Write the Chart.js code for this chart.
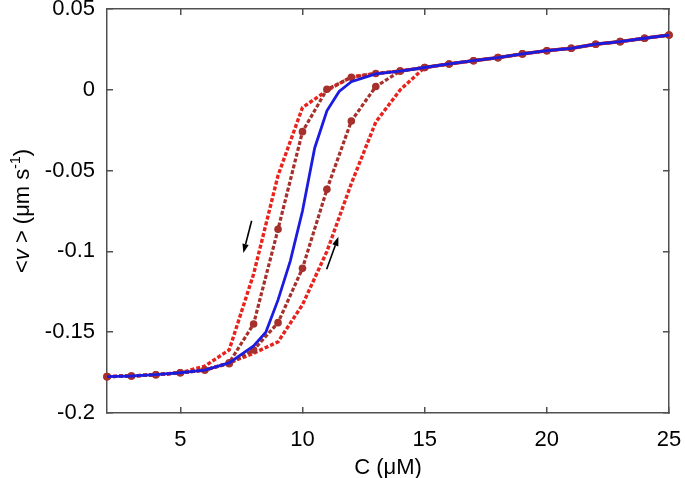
<!DOCTYPE html>
<html>
<head>
<meta charset="utf-8">
<script src="https://cdn.jsdelivr.net/npm/chart.js@4.4.1/dist/chart.umd.min.js"></script>
<style>
  html, body { margin: 0; padding: 0; background: #fff; }
  #wrap { width: 685px; height: 478px; }
</style>
</head>
<body>
<div id="wrap"><canvas id="chart"></canvas></div>
<script>
// concentration grid (uM) for the marked runs
var conc = [2, 3, 4, 5, 6, 7, 8, 9, 10, 11, 12, 13, 14, 15, 16, 17, 18, 19, 20, 21, 22, 23, 24, 25];
// brown dotted with markers, decreasing C branch
var downMarked = [-0.1775, -0.1771, -0.1763, -0.1751, -0.1734, -0.1689, -0.1449, -0.0863, -0.0259, 0.0003, 0.0077, 0.0101,
                  0.0116, 0.0138, 0.0160, 0.0180, 0.0199, 0.0222, 0.0242, 0.0257, 0.0282, 0.0298, 0.0319, 0.0339];
// brown dotted with markers, increasing C branch
var upMarked = [-0.1775, -0.1771, -0.1763, -0.1751, -0.1734, -0.1695, -0.1610, -0.1441, -0.1105, -0.0616, -0.0193, 0.0020,
                0.0116, 0.0138, 0.0160, 0.0180, 0.0199, 0.0222, 0.0242, 0.0257, 0.0282, 0.0298, 0.0319, 0.0339];
// red dotted outer loop
var downOuter = [-0.1775, -0.1771, -0.1763, -0.1751, -0.1710, -0.1610, -0.1140, -0.0530, -0.0110, -0.0005, 0.0080, 0.0101,
                 0.0116, 0.0138, 0.0160, 0.0180, 0.0199, 0.0222, 0.0242, 0.0257, 0.0282, 0.0298, 0.0319, 0.0339];
var upOuter = [-0.1775, -0.1771, -0.1763, -0.1751, -0.1735, -0.1690, -0.1630, -0.1560, -0.1330, -0.1000, -0.0580, -0.0200,
               0.0000, 0.0138, 0.0160, 0.0180, 0.0199, 0.0222, 0.0242, 0.0257, 0.0282, 0.0298, 0.0319, 0.0339];
// blue solid curve
var blueC = [2, 3, 4, 5, 6, 7, 8, 8.5, 9, 9.5, 10, 10.5, 11, 11.5, 12, 13, 14, 15, 16, 17, 18, 19, 20, 21, 22, 23, 24, 25];
var blueV = [-0.1775, -0.1771, -0.1763, -0.1751, -0.1735, -0.1690, -0.1585, -0.1500, -0.1300, -0.1060, -0.0750, -0.0360,
             -0.0130, -0.0010, 0.0050, 0.0098, 0.0116, 0.0138, 0.0160, 0.0180, 0.0199, 0.0222, 0.0242, 0.0257, 0.0282, 0.0298, 0.0319, 0.0339];
// tick labels
var xTicks = [5, 10, 15, 20, 25];
var yTicks = [0.05, 0, -0.05, -0.1, -0.15, -0.2];
// direction arrows, [fromC, fromV, toC, toV]
var arrows = [[7.92, -0.081, 7.58, -0.101], [10.99, -0.111, 11.47, -0.091]];

function pairs(xs, ys) {
    return xs.map(function(x, i) { return {x: x, y: ys[i]}; });
}

var FONT = 'Liberation Sans, Arial, sans-serif';
var RED = '#e8231e';
var BROWN = '#a5302c';
var BLUE = '#1c1ce0';
var AXIS = '#505050';

// arrows and axis titles
var notesPlugin = {
    id: 'notes',
    afterDraw: function(chart) {
        var ctx = chart.ctx, a = chart.chartArea;
        var xs = chart.scales.x, ys = chart.scales.y;
        ctx.save();
        ctx.setLineDash([]);
        ctx.strokeStyle = '#000';
        ctx.fillStyle = '#000';
        ctx.lineWidth = 1.6;
        arrows.forEach(function(ar) {
            var x0 = xs.getPixelForValue(ar[0]), y0 = ys.getPixelForValue(ar[1]);
            var x1 = xs.getPixelForValue(ar[2]), y1 = ys.getPixelForValue(ar[3]);
            var ang = Math.atan2(y1 - y0, x1 - x0);
            var hl = 9, hw = 3.2;
            var bx = x1 - hl * Math.cos(ang), by = y1 - hl * Math.sin(ang);
            ctx.beginPath();
            ctx.moveTo(x0, y0); ctx.lineTo(bx, by);
            ctx.stroke();
            ctx.beginPath();
            ctx.moveTo(x1, y1);
            ctx.lineTo(bx + hw * Math.sin(ang), by - hw * Math.cos(ang));
            ctx.lineTo(bx - hw * Math.sin(ang), by + hw * Math.cos(ang));
            ctx.closePath();
            ctx.fill();
        });

        ctx.textBaseline = 'alphabetic';
        ctx.font = '22px ' + FONT;
        ctx.textAlign = 'center';
        ctx.fillText('C (\u03bcM)', (a.left + a.right) / 2, 474);

        var parts = [
            {t: '<', f: '22px ' + FONT, dy: 0},
            {t: 'v', f: 'italic 22px ' + FONT, dy: 0},
            {t: ' > (\u03bcm s', f: '22px ' + FONT, dy: 0},
            {t: '-1', f: '14px ' + FONT, dy: -9},
            {t: ')', f: '22px ' + FONT, dy: 0}
        ];
        var total = 0;
        parts.forEach(function(p) { ctx.font = p.f; p.w = ctx.measureText(p.t).width; total += p.w; });
        ctx.translate(29, (a.top + a.bottom) / 2);
        ctx.rotate(-Math.PI / 2);
        ctx.textAlign = 'left';
        var cx = -total / 2;
        parts.forEach(function(p) {
            ctx.font = p.f;
            ctx.fillText(p.t, cx, p.dy);
            cx += p.w;
        });
        ctx.restore();
    }
};

var dotted = [4, 2];

// shared axis look: box border plus short inward ticks
function axisGrid() {
    return { display: true, drawOnChartArea: false, drawTicks: true, tickLength: -6, color: AXIS, lineWidth: 1.5 };
}
function axisBorder() {
    return { display: true, color: AXIS, width: 1.5 };
}
function setTicks(list) {
    return function(scale) {
        scale.ticks = list.map(function(v) { return {value: v}; });
    };
}
function fitTo(w, h) {
    return function(scale) {
        if (w !== null) scale.width = w;
        if (h !== null) scale.height = h;
        scale.paddingLeft = 0; scale.paddingRight = 0;
        scale.paddingTop = 0; scale.paddingBottom = 0;
    };
}

new Chart(document.getElementById('chart'), {
    type: 'line',
    data: {
        datasets: [{
            data: pairs(blueC, blueV),
            borderColor: BLUE,
            borderWidth: 2.8,
            pointRadius: 0,
            order: 0
        }, {
            data: pairs(conc, downMarked),
            borderColor: BROWN,
            backgroundColor: BROWN,
            borderWidth: 3.2,
            borderDash: dotted,
            pointRadius: 3.8,
            pointBorderWidth: 0,
            order: 1
        }, {
            data: pairs(conc, upMarked),
            borderColor: BROWN,
            backgroundColor: BROWN,
            borderWidth: 3.2,
            borderDash: dotted,
            pointRadius: 3.8,
            pointBorderWidth: 0,
            order: 1
        }, {
            data: pairs(conc, downOuter),
            borderColor: RED,
            borderWidth: 3.4,
            borderDash: dotted,
            pointRadius: 0,
            order: 2
        }, {
            data: pairs(conc, upOuter),
            borderColor: RED,
            borderWidth: 3.4,
            borderDash: dotted,
            pointRadius: 0,
            order: 2
        }]
    },
    options: {
        responsive: true,
        maintainAspectRatio: false,
        animation: false,
        clip: false,
        layout: { padding: { top: 9, right: 16, left: 0, bottom: 0 } },
        plugins: {
            legend: { display: false },
            tooltip: { enabled: false }
        },
        scales: {
            x: {
                type: 'linear',
                position: 'bottom',
                min: 2,
                max: 25,
                grid: axisGrid(),
                border: axisBorder(),
                afterBuildTicks: setTicks(xTicks),
                afterFit: fitTo(null, 65),
                ticks: {
                    color: '#000',
                    padding: 20,
                    maxRotation: 0,
                    font: { family: FONT, size: 22 }
                }
            },
            x2: {
                type: 'linear',
                position: 'top',
                min: 2,
                max: 25,
                grid: axisGrid(),
                border: axisBorder(),
                afterBuildTicks: setTicks(xTicks),
                afterFit: fitTo(null, 0),
                ticks: { display: false }
            },
            y: {
                type: 'linear',
                position: 'left',
                min: -0.2,
                max: 0.05,
                grid: axisGrid(),
                border: axisBorder(),
                afterBuildTicks: setTicks(yTicks),
                afterFit: fitTo(107, null),
                ticks: {
                    color: '#000',
                    padding: 18,
                    font: { family: FONT, size: 22 },
                    callback: function(v) { return String(+v.toFixed(2)); }
                }
            },
            y2: {
                type: 'linear',
                position: 'right',
                min: -0.2,
                max: 0.05,
                grid: axisGrid(),
                border: axisBorder(),
                afterBuildTicks: setTicks(yTicks),
                afterFit: fitTo(0, null),
                ticks: { display: false }
            }
        }
    },
    plugins: [notesPlugin]
});
</script>
</body>
</html>
